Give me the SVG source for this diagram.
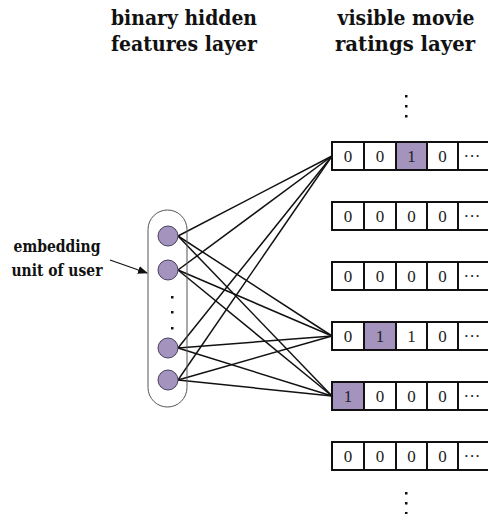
<svg xmlns="http://www.w3.org/2000/svg" width="488" height="514" viewBox="0 0 488 514">
<defs>
<style>
.hdr{font-family:"DejaVu Serif","Liberation Serif",serif;font-weight:700;font-stretch:condensed;font-size:21px;fill:#111;text-anchor:middle}
.lbl{font-family:"DejaVu Serif","Liberation Serif",serif;font-weight:700;font-stretch:condensed;font-size:16.5px;fill:#111;text-anchor:middle}
.cell{fill:#fff;stroke:#111;stroke-width:2}
.hi{fill:#a493bd;stroke:#111;stroke-width:2}
.num{font-family:"Liberation Serif","Times New Roman",serif;font-size:17px;fill:#222;text-anchor:middle}
.unit{fill:#a493bd;stroke:#4a3f5e;stroke-width:1}
.conn line{stroke:#111;stroke-width:1.5}
.dot{fill:#111}
</style>
<marker id="ah" markerWidth="10" markerHeight="8" refX="9" refY="4" orient="auto" markerUnits="userSpaceOnUse">
<path d="M0,0 L10,4 L0,8 Z" fill="#111"/>
</marker>
</defs>
<rect width="488" height="514" fill="#fff"/>

<g id="header-hidden">
<text class="hdr" x="184" y="25" textLength="146" lengthAdjust="spacingAndGlyphs">binary hidden</text>
<text class="hdr" x="184" y="51" textLength="146" lengthAdjust="spacingAndGlyphs">features layer</text>
</g>
<g id="header-visible">
<text class="hdr" x="406" y="25" textLength="137" lengthAdjust="spacingAndGlyphs">visible movie</text>
<text class="hdr" x="405" y="51" textLength="140" lengthAdjust="spacingAndGlyphs">ratings layer</text>
</g>

<g id="embedding-label">
<text class="lbl" x="57" y="252" textLength="87" lengthAdjust="spacingAndGlyphs">embedding</text>
<text class="lbl" x="57" y="276" textLength="91" lengthAdjust="spacingAndGlyphs">unit of user</text>
<line x1="110" y1="260" x2="147" y2="273" stroke="#111" stroke-width="1.2" marker-end="url(#ah)"/>
</g>

<g class="conn" id="connectors">
<line x1="178" y1="236" x2="332" y2="156"/>
<line x1="178" y1="236" x2="332" y2="336"/>
<line x1="178" y1="236" x2="332" y2="396"/>
<line x1="178" y1="270" x2="332" y2="156"/>
<line x1="178" y1="270" x2="332" y2="336"/>
<line x1="178" y1="270" x2="332" y2="396"/>
<line x1="178" y1="348" x2="332" y2="156"/>
<line x1="178" y1="348" x2="332" y2="336"/>
<line x1="178" y1="348" x2="332" y2="396"/>
<line x1="178" y1="380" x2="332" y2="156"/>
<line x1="178" y1="380" x2="332" y2="336"/>
<line x1="178" y1="380" x2="332" y2="396"/>
</g>

<g id="hidden-layer">
<rect x="148" y="210" width="39" height="197" rx="19.5" ry="19.5" fill="none" stroke="#555" stroke-width="1"/>
<circle class="unit" cx="168" cy="236" r="10"/>
<circle class="unit" cx="168" cy="270" r="10"/>
<circle class="unit" cx="168" cy="348" r="10"/>
<circle class="unit" cx="168" cy="380" r="10"/>
<rect class="dot" x="171" y="296" width="2.5" height="2.5"/>
<rect class="dot" x="171" y="311" width="2.5" height="2.5"/>
<rect class="dot" x="171" y="327" width="2.5" height="2.5"/>
</g>

<g id="dots-top">
<rect class="dot" x="405" y="95" width="2.5" height="2.5"/>
<rect class="dot" x="405" y="105" width="2.5" height="2.5"/>
<rect class="dot" x="405" y="115" width="2.5" height="2.5"/>
</g>

<g id="row1">
<rect class="cell" x="332" y="142" width="32" height="28"/>
<rect class="cell" x="364" y="142" width="32" height="28"/>
<rect class="hi" x="396" y="142" width="31" height="28"/>
<rect class="cell" x="427" y="142" width="31" height="28"/>
<rect class="cell" x="458" y="142" width="34" height="28"/>
<text class="num" x="348" y="162">0</text><text class="num" x="380" y="162">0</text><text class="num" x="411.5" y="162">1</text><text class="num" x="442.5" y="162">0</text><text class="num" x="472" y="162">···</text>
</g>
<g id="row2">
<rect class="cell" x="332" y="202" width="32" height="28"/>
<rect class="cell" x="364" y="202" width="32" height="28"/>
<rect class="cell" x="396" y="202" width="31" height="28"/>
<rect class="cell" x="427" y="202" width="31" height="28"/>
<rect class="cell" x="458" y="202" width="34" height="28"/>
<text class="num" x="348" y="222">0</text><text class="num" x="380" y="222">0</text><text class="num" x="411.5" y="222">0</text><text class="num" x="442.5" y="222">0</text><text class="num" x="472" y="222">···</text>
</g>
<g id="row3">
<rect class="cell" x="332" y="262" width="32" height="28"/>
<rect class="cell" x="364" y="262" width="32" height="28"/>
<rect class="cell" x="396" y="262" width="31" height="28"/>
<rect class="cell" x="427" y="262" width="31" height="28"/>
<rect class="cell" x="458" y="262" width="34" height="28"/>
<text class="num" x="348" y="282">0</text><text class="num" x="380" y="282">0</text><text class="num" x="411.5" y="282">0</text><text class="num" x="442.5" y="282">0</text><text class="num" x="472" y="282">···</text>
</g>
<g id="row4">
<rect class="cell" x="332" y="322" width="32" height="28"/>
<rect class="hi" x="364" y="322" width="32" height="28"/>
<rect class="cell" x="396" y="322" width="31" height="28"/>
<rect class="cell" x="427" y="322" width="31" height="28"/>
<rect class="cell" x="458" y="322" width="34" height="28"/>
<text class="num" x="348" y="342">0</text><text class="num" x="380" y="342">1</text><text class="num" x="411.5" y="342">1</text><text class="num" x="442.5" y="342">0</text><text class="num" x="472" y="342">···</text>
</g>
<g id="row5">
<rect class="hi" x="332" y="382" width="32" height="28"/>
<rect class="cell" x="364" y="382" width="32" height="28"/>
<rect class="cell" x="396" y="382" width="31" height="28"/>
<rect class="cell" x="427" y="382" width="31" height="28"/>
<rect class="cell" x="458" y="382" width="34" height="28"/>
<text class="num" x="348" y="402">1</text><text class="num" x="380" y="402">0</text><text class="num" x="411.5" y="402">0</text><text class="num" x="442.5" y="402">0</text><text class="num" x="472" y="402">···</text>
</g>
<g id="row6">
<rect class="cell" x="332" y="442" width="32" height="28"/>
<rect class="cell" x="364" y="442" width="32" height="28"/>
<rect class="cell" x="396" y="442" width="31" height="28"/>
<rect class="cell" x="427" y="442" width="31" height="28"/>
<rect class="cell" x="458" y="442" width="34" height="28"/>
<text class="num" x="348" y="462">0</text><text class="num" x="380" y="462">0</text><text class="num" x="411.5" y="462">0</text><text class="num" x="442.5" y="462">0</text><text class="num" x="472" y="462">···</text>
</g>

<g id="dots-bottom">
<rect class="dot" x="405" y="492" width="2.5" height="2.5"/>
<rect class="dot" x="405" y="502" width="2.5" height="2.5"/>
<rect class="dot" x="405" y="512" width="2.5" height="2.5"/>
</g>
</svg>
